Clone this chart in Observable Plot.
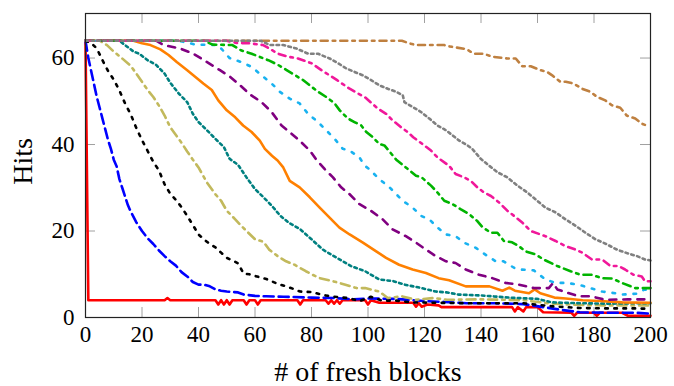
<!DOCTYPE html>
<html><head><meta charset="utf-8">
<script src="https://cdn.jsdelivr.net/npm/d3@7"></script>
<script src="https://cdn.jsdelivr.net/npm/@observablehq/plot@0.6"></script>
<style>body{margin:0;background:#fff} svg{display:block}</style>
</head><body><div id="chart"></div>
<script>
const xTicks = [0,20,40,60,80,100,120,140,160,180,200];
const yTicks = [0,20,40,60];
const xLabel = "# of fresh blocks";
const yLabel = "Hits";

const red = [[0,64],[1,4],[28,4],[29,4.5],[30,4],[46,4],[47,3],[48,4],[49,3],[50,4],[51,3],[52,4],[56,4],[57,3],[58,4],[60,4],[61,3],[62,4],[75,4],[76,3],[77,4],[85,4],[86,3.2],[87,4],[88,3.2],[89,4],[90,3.2],[91,4],[99,4],[100,3],[101,4],[104,3.4],[116,3.4],[117,2.5],[118,3.3],[119,2.5],[121,3],[125,2.8],[126,2.4],[151,2.4],[152,1.4],[153,2.4],[155,1.4],[156,2.4],[160,2.4],[162,1.2],[172,1.1],[173,0.4],[174,1.1],[180,1.1],[181,0.4],[182,1.1],[190,1.1],[192,0.4],[200,0.4]];
const blue = [[0,64],[1,60],[2,57],[3,54],[4,51],[5,48.5],[6,46],[7,43.5],[8,41],[9,39],[10,36.5],[11,35],[12,32],[13,30],[14,28],[15,26],[16,24.5],[18,22],[20,20],[22,18.3],[24,17],[26,15.5],[28,14.2],[30,13],[32,12],[34,10.5],[36,9.5],[38,8.2],[40,7.6],[42,7.6],[44,7.2],[46,6.5],[48,6.2],[50,6],[54,5.8],[56,5.3],[60,5],[64,4.9],[70,4.8],[80,4.6],[88,4.5],[95,4.2],[100,4.4],[110,4.3],[120,3.8],[127,3.6],[135,3.3],[145,3.3],[155,3.1],[162,2.4],[168,1.8],[175,1.2],[185,1.1],[195,1.1],[200,0.9]];
const black = [[0,64],[2,63.5],[4,62.2],[6,59.5],[8,57],[10,55],[12,52.5],[14,49.5],[16,47],[18,43.8],[20,41],[22,38.5],[24,36],[26,34],[28,30.8],[30,28.6],[32,27.2],[34,25.5],[36,23.5],[38,21.4],[40,19.2],[42,18],[44,17],[46,16.2],[48,15],[50,13.8],[52,13.2],[54,12.5],[56,10.1],[58,10],[60,9.6],[64,8.9],[68,7.8],[72,7],[76,6],[80,5.9],[84,5.2],[88,4.8],[93,4.5],[97,3.8],[101,4.8],[105,3.9],[110,3.9],[115,3.5],[125,3.4],[135,3.3],[145,3.3],[155,3.3],[165,2.6],[175,2.2],[185,2.1],[195,2.1],[200,2.0]];
const olive = [[0,64],[5,64],[7.6,63],[10,61.5],[13,59.9],[16,58.2],[18,56.4],[20,54.5],[22,52.6],[24,51],[26,49],[28,46.7],[30,44],[32,42.2],[34,40.4],[36,38.4],[38,36.5],[40,34.7],[43,31.2],[46,28.5],[48,27],[50,24.7],[53,22.7],[55,21.3],[57,20],[60,18.1],[63,17.5],[65,15.7],[68,14.2],[71,13],[74,12.2],[78,10.7],[80,10],[83,9.1],[87,8.5],[92,7.6],[96,6.8],[99,6.8],[104,6],[107,4.5],[112,4.9],[117,4.1],[123,4.5],[128,4.1],[140,4.2],[155,4.0],[165,3.2],[175,2.9],[185,2.8],[195,2.8],[200,2.8]];
const teal = [[0,64],[12,64],[14,63],[17,61.5],[19,61],[22,59.5],[25,58.4],[28,56.4],[30,54.3],[33,51.8],[36,49.8],[38,47.1],[40,45.2],[43,43.3],[46,41.3],[49,39.4],[51,36.7],[54,35.3],[57,32.4],[60,29.7],[63,27.8],[66,25.8],[69,23.5],[72,21.9],[76,20.4],[80,18.1],[84,15.7],[89,13.8],[94,11.9],[99,10.7],[104,8.8],[109,8.4],[113,7.6],[119,6.8],[124,6],[128,5.8],[132,5.3],[140,5.1],[150,4.6],[160,4.3],[165,3.5],[175,3.3],[185,3.2],[195,3.3],[200,3.3]];
const orange = [[0,64],[17,64],[20,63.4],[23,63],[26.5,62],[29.4,60.7],[32.3,59.1],[36,57.2],[38.8,55.7],[41.7,54.1],[44.7,52.6],[47,50.2],[50,47.9],[53,46.3],[55.8,44.4],[58.8,42.9],[61.7,40.9],[63.5,39],[66,37.4],[68,36.3],[70,34.7],[72.3,31.6],[75.8,30.1],[79.4,27.8],[82.9,25.4],[86.4,23.1],[89.9,20.8],[93.5,19.2],[98.2,17.3],[102.9,15.3],[106.4,13.8],[111,12.2],[115.8,11.1],[120.5,10.3],[125,9.1],[128.7,8.6],[134.6,7.2],[143,7.2],[147.6,6.2],[150,6.9],[152,6.2],[157,5.6],[159,6.5],[161,5.6],[166,4.6],[170,4.4],[176,4],[182,3.8],[190,3.5],[200,3.4]];
const purple = [[0,64],[25,64],[27.6,63],[33.5,62.2],[38.2,61],[42.9,59.1],[47.6,57.2],[51.1,55.7],[54.7,53.7],[58.2,51.6],[62.3,49.8],[65.9,47.5],[69.4,44.4],[72.9,42.5],[75.8,40.9],[79.4,38.6],[81.7,36.5],[84.7,34.3],[87.6,32.4],[90.5,30.1],[93.5,28.5],[97,26.2],[101,24.7],[105.2,22.7],[108.7,20.4],[113.4,18.8],[117,17.3],[120.5,15.7],[124,14.2],[127.6,13],[131,12.6],[134.6,11.1],[139.3,9.9],[144,9.1],[148.7,8],[153.4,7.6],[158.7,6.8],[164,6.8],[165.5,8],[167,6.5],[169.3,6],[174.6,4.9],[179,4.9],[184,4.1],[192,4.2],[200,4.2]];
const cyan = [[0,64],[33,64],[39,63.1],[47,63],[51,60],[55,59.1],[59,57.9],[62.3,56],[65.9,54.1],[68.8,52.2],[72.3,50.6],[75.8,49.5],[78.8,47.1],[82.3,45.2],[85.2,43.3],[88.2,41.3],[91.1,39],[93.5,38.6],[97,37],[98.8,35.1],[100.5,34.3],[104,32],[107.6,30.1],[112.3,27],[115.8,25.4],[118.8,23.5],[121.7,22.7],[124.6,20.8],[127.6,19.2],[131,18.8],[134,17.3],[138.2,16.1],[142.3,14.2],[145.2,13],[148,13],[151.7,11.5],[154,11.1],[158.7,10.9],[162.8,8.8],[166.4,8],[170.5,8],[175,7.5],[178.7,6.8],[182.9,6],[187.6,5.6],[190,5.3],[195,5.5],[198,6.5],[200,6]];
const brown = [[0,64],[112,64],[114.6,63.4],[117,63],[127,63],[128.7,62.7],[134.6,62.1],[137.6,61],[141,61],[144,60.3],[149.3,59.9],[152.3,59.9],[154.6,58.1],[157.6,58.1],[161.1,57.2],[163.4,56.8],[165.2,56],[168.1,54.5],[170,54.5],[172.8,54.1],[175.8,52.9],[178.7,52.2],[181.1,51],[184,50.2],[186.3,49.1],[189.3,48.5],[191.6,46.7],[194.6,46],[197,44.8],[199,44.3]];
const green = [[0,64],[42,64],[45,63.1],[52,63],[55,61.8],[58.8,61],[64.7,59.5],[68.2,58.4],[71.2,57.2],[77,54.9],[82.3,52.2],[85.2,51],[88.2,49.5],[90,47.9],[92.9,46],[95.2,45.2],[97.6,44.4],[99.4,42.9],[101.7,41.7],[104,40.1],[105.8,39.8],[110,36.5],[113.4,34.7],[117,32.8],[119,32.4],[122.3,30.5],[124.6,28.9],[127,27],[130,26.2],[132.9,25],[135.8,23.9],[138.7,22.3],[140.5,20.9],[143.5,19.6],[145.8,19.6],[148.1,17.7],[151,17.4],[153.4,16.5],[155.8,15.3],[159.3,14.6],[162.2,13.4],[167,11.9],[171.7,10.7],[175.2,9.9],[179,9.9],[182.8,9.1],[186.5,9],[189.9,8],[194.6,6.8],[200,6.8]];
const magenta = [[0,64],[50,64],[53.5,63.5],[58.2,63.4],[62.9,63],[68.2,61],[71.7,60.3],[75.2,59.9],[80,58.8],[83.5,57.2],[86.4,56],[88.8,55],[93.5,52.9],[96.4,51.8],[98.8,51],[103.5,48.3],[106.4,47.1],[108.7,45.6],[111.7,44],[114,42.9],[116,41.7],[119.3,40.1],[122.3,38.6],[124.6,37],[128.7,35.1],[131,33.2],[134,32.4],[136.4,31.6],[138.7,30.1],[141.1,28.9],[143.5,28.1],[146.4,26.6],[149.3,24.7],[151.7,23.5],[154.7,21.9],[157.6,20],[162.8,18.8],[166.4,17.7],[169.9,16.5],[173.5,15.7],[175.8,15],[179.3,13.4],[182.9,13.4],[185.8,11.9],[188.7,11.9],[191,11.1],[193.9,9.9],[196.9,9.5],[198,8.4],[200,8.4]];
const gray = [[0,64],[62,64],[65.3,63],[70,63],[74.7,62.2],[78.8,61],[82.3,61],[86.4,59.9],[89.4,58.8],[92.3,57.6],[95.2,56.8],[98.2,56],[101.1,54.9],[104,53.7],[107,52.9],[110,52.2],[112.3,51.4],[112.9,49.8],[115.8,48.7],[118.8,47.5],[121.7,46],[124.6,44.4],[127.6,43.3],[132.3,40.9],[135.2,39.8],[136.9,39],[139.9,36.7],[142.9,35.1],[145.8,33.6],[149.3,32.4],[152.9,30.5],[156.4,28.9],[159.9,27],[162.8,25.4],[166.4,24.3],[169.9,22.7],[173.5,21.2],[177,19.6],[180.5,18.1],[184.6,16.9],[188.1,15.7],[191.6,14.9],[195.2,14.2],[198.1,13.4],[200,13.2]];

// styling (separate from data)
const styles = [
  {data: red, stroke: "#ff0000", dash: null},
  {data: blue, stroke: "#0000ff", dash: "10,5"},
  {data: black, stroke: "#000000", dash: "2.6,6.5"},
  {data: olive, stroke: "#c2b95c", dash: "9,5,2.6,5"},
  {data: teal, stroke: "#008080", dash: "2.6,3.4"},
  {data: orange, stroke: "#ff8000", dash: null},
  {data: purple, stroke: "#800080", dash: "7,7"},
  {data: cyan, stroke: "#19b2f0", dash: "2.6,8"},
  {data: brown, stroke: "#bf8040", dash: "7,5,2.6,5"},
  {data: green, stroke: "#00b400", dash: "8,5,2.6,5"},
  {data: magenta, stroke: "#f0189a", dash: "7,5,2.6,5"},
  {data: gray, stroke: "#808080", dash: "2.6,3.4"}
];

const W = 674, H = 386, mL = 85, mR = 24, mT = 13, mB = 69;
const pw = W - mL - mR, ph = H - mT - mB;
const serif = "Liberation Serif, Times New Roman, serif";

const marks = [
  Plot.tickX(xTicks, {x: d => d, stroke: "#a0a0a0", insetTop: ph - 10}),
  Plot.tickX(xTicks, {x: d => d, stroke: "#a0a0a0", insetBottom: ph - 10}),
  Plot.tickY(yTicks, {y: d => d, stroke: "#a0a0a0", insetRight: pw - 10}),
  Plot.tickY(yTicks, {y: d => d, stroke: "#a0a0a0", insetLeft: pw - 10}),
  ...styles.map(s => Plot.line(s.data, {
    x: d => d[0], y: d => d[1], stroke: s.stroke, strokeWidth: 2.6,
    strokeDasharray: s.dash ?? undefined, strokeLinejoin: "round"
  })),
  Plot.frame({stroke: "#222", strokeWidth: 1.2}),
  Plot.text(xTicks, {x: d => d, text: d => String(d), frameAnchor: "bottom", lineAnchor: "top", textAnchor: "middle", dy: 8, fontSize: 23, fontFamily: serif, fill: "#000"}),
  Plot.text(yTicks, {y: d => d, text: d => String(d), frameAnchor: "left", lineAnchor: "middle", textAnchor: "end", dx: -11, fontSize: 23, fontFamily: serif, fill: "#000"}),
  Plot.text([xLabel], {text: d => d, frameAnchor: "bottom", lineAnchor: "middle", textAnchor: "middle", dy: 55, fontSize: 28, fontFamily: serif, fill: "#000"}),
  Plot.text([yLabel], {text: d => d, frameAnchor: "left", lineAnchor: "middle", textAnchor: "middle", rotate: -90, dx: -62, dy: -4, fontSize: 28, fontFamily: serif, fill: "#000"})
];

const chart = Plot.plot({
  width: W, height: H,
  marginLeft: mL, marginRight: mR, marginTop: mT, marginBottom: mB,
  x: {domain: [0, 200], axis: null},
  y: {domain: [0, 70.3], axis: null},
  style: {fontFamily: serif, color: "#000", background: "#fff"},
  marks
});
document.getElementById("chart").appendChild(chart);
</script>
</body></html>
